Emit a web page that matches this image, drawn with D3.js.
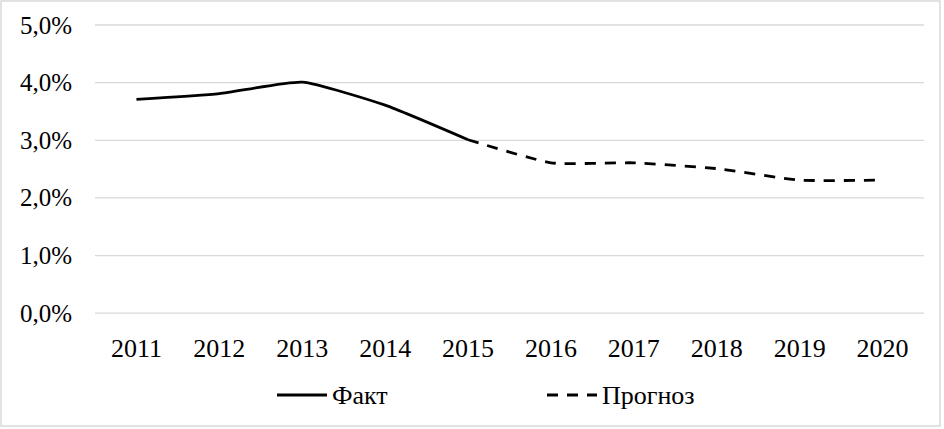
<!DOCTYPE html>
<html lang="ru">
<head>
<meta charset="utf-8">
<script src="https://cdn.jsdelivr.net/npm/d3@7"></script>
<style>
  html, body { margin: 0; padding: 0; background: #fff; }
</style>
</head>
<body>
<svg id="chart" width="944" height="429"></svg>
<script>
const years = ['2011', '2012', '2013', '2014', '2015', '2016', '2017', '2018', '2019', '2020']
const fact = [3.7, 3.8, 4.0, 3.6, 3.0, null, null, null, null, null]
const forecast = [null, null, null, null, 3.0, 2.6, 2.6, 2.5, 2.3, 2.3]
const yTicks = [0, 1, 2, 3, 4, 5]
const seriesNames = ['Факт', 'Прогноз']

const W = 944
const H = 429
const plot = { left: 95, right: 924, top: 24.5, bottom: 312.7 }
const FONT = 'Liberation Serif'

const svg = d3.select('#chart')

// labels first, same way as the plain text test
const xScale = d3.scalePoint()
  .domain(years)
  .range([plot.left, plot.right])
  .padding(0.5)

const yScale = d3.scaleLinear()
  .domain([0, 5])
  .range([plot.bottom, plot.top])

const fmt = (d) => d.toFixed(1).replace('.', ',') + '%'

// thin frame round the picture
svg.append('rect')
  .attr('x', 1).attr('y', 1)
  .attr('width', W - 5).attr('height', H - 4)
  .attr('fill', 'none')
  .attr('stroke', '#d9d9d9')
  .attr('stroke-width', 1.5)

// horizontal grid lines (axis without labels)
const grid = svg.append('g')
  .attr('transform', `translate(${plot.left},0)`)
  .call(d3.axisLeft(yScale).tickValues(yTicks).tickFormat('').tickSize(-(plot.right - plot.left)))
grid.select('.domain').remove()
grid.selectAll('line').attr('stroke', '#d9d9d9').attr('stroke-width', 1.3)

// y labels
yTicks.forEach((d) => {
  svg.append('text')
    .attr('x', 72)
    .attr('y', yScale(d) + 9)
    .attr('text-anchor', 'end')
    .attr('font-family', FONT)
    .attr('font-size', '25px')
    .text(fmt(d))
})

// x labels
years.forEach((d) => {
  svg.append('text')
    .attr('x', xScale(d))
    .attr('y', 357)
    .attr('text-anchor', 'middle')
    .attr('font-family', FONT)
    .attr('font-size', '26px')
    .text(d)
})

const line = d3.line()
  .defined((d) => d.v !== null)
  .x((d) => xScale(d.year))
  .y((d) => yScale(d.v))
  .curve(d3.curveCardinal.tension(0.5))

const toPoints = (vals) => years.map((year, i) => ({ year, v: vals[i] }))

svg.append('path')
  .attr('fill', 'none')
  .attr('stroke', '#000')
  .attr('stroke-width', 2.8)
  .attr('d', line(toPoints(fact)))

svg.append('path')
  .attr('fill', 'none')
  .attr('stroke', '#000')
  .attr('stroke-width', 2.8)
  .attr('stroke-dasharray', '11,9')
  .attr('d', line(toPoints(forecast)))

// legend
const legend = svg.append('g').attr('transform', 'translate(277,395)')
const items = [
  { name: seriesNames[0], x: 0, dash: null },
  { name: seriesNames[1], x: 270, dash: '11,9' },
]
items.forEach((it) => {
  const g = legend.append('g').attr('transform', `translate(${it.x},0)`)
  g.append('line')
    .attr('x1', 0).attr('x2', 50)
    .attr('y1', 0).attr('y2', 0)
    .attr('stroke', '#000')
    .attr('stroke-width', 2.8)
    .attr('stroke-dasharray', it.dash)
  g.append('text')
    .attr('x', 55)
    .attr('y', 9)
    .attr('font-family', FONT)
    .attr('font-size', '26px')
    .text(it.name)
})
</script>
</body>
</html>
